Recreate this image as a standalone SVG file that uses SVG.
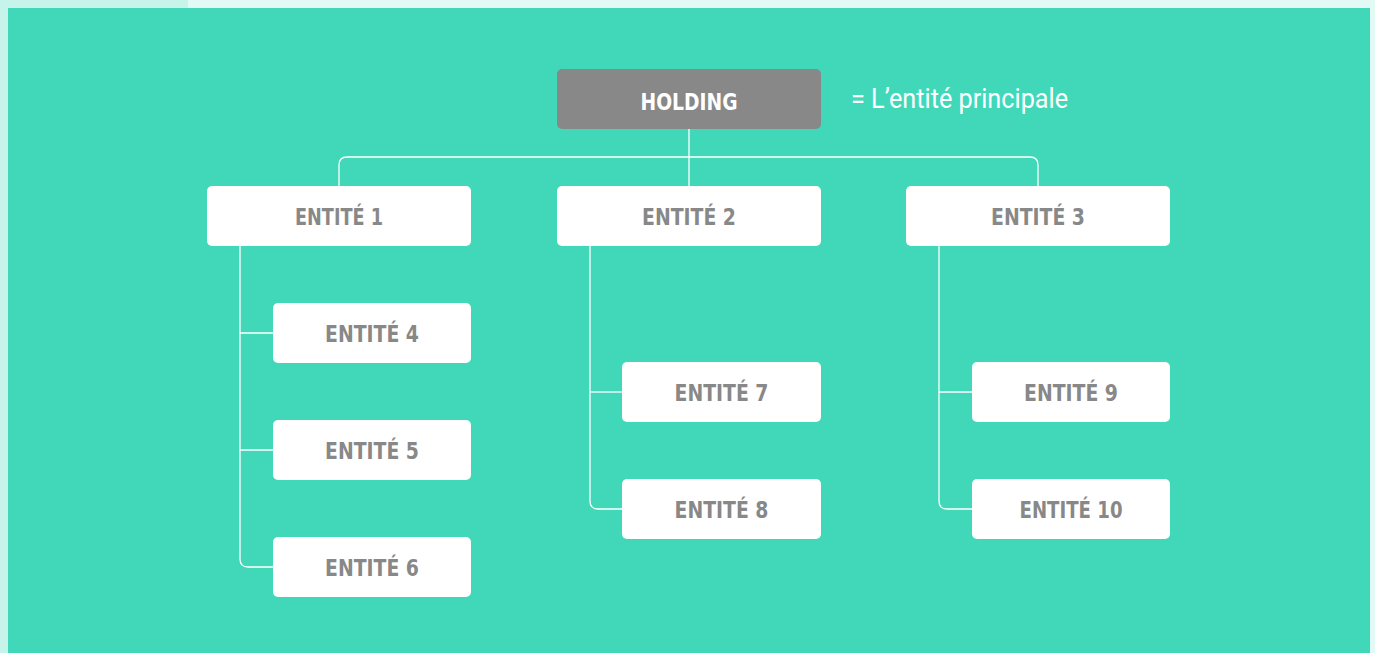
<svg xmlns="http://www.w3.org/2000/svg" width="1375" height="653" viewBox="0 0 1375 653">
<style>
.box{fill:#ffffff}
.hold{fill:#888888}
.lbl{font-family:"DejaVu Sans Condensed","DejaVu Sans",sans-serif;font-weight:bold;font-size:23.5px;fill:#888888;text-anchor:middle}
.note{font-family:"Roboto","Liberation Sans",sans-serif;font-size:27px;fill:#ffffff}
.ln{fill:none;stroke:#ffffff;stroke-width:1.3}
</style>
<rect x="0" y="0" width="1375" height="653" fill="#e3f9f4"/>
<rect x="0" y="0" width="188" height="8" fill="#c6f3ea"/>
<rect x="0" y="0" width="8" height="653" fill="#c6f3ea"/>
<rect x="8" y="8" width="1362" height="645" fill="#41d8b9"/>
<g id="connectors">
<path class="ln" d="M689 129 V157"/>
<path class="ln" d="M339 186 V165 Q339 157 347 157 H1030 Q1038 157 1038 165 V186"/>
<path class="ln" d="M689 157 V186"/>
<path class="ln" d="M240 246 V559 Q240 567 248 567 H273"/>
<path class="ln" d="M240 333 H273 M240 450 H273"/>
<path class="ln" d="M590 246 V501 Q590 509 598 509 H622"/>
<path class="ln" d="M590 392 H622"/>
<path class="ln" d="M939 246 V501 Q939 509 947 509 H972"/>
<path class="ln" d="M939 392 H972"/>
</g>
<g id="holding">
<rect class="hold" x="557" y="69" width="264" height="60" rx="5"/>
<text class="lbl" x="689" y="109.5" textLength="97" lengthAdjust="spacingAndGlyphs" style="fill:#ffffff">HOLDING</text>
</g>
<g id="note">
<text class="note" x="851" y="108" textLength="217" lengthAdjust="spacingAndGlyphs">= L’entité principale</text>
</g>
<g id="e1"><rect class="box" x="207" y="186" width="264" height="60" rx="5"/><text class="lbl" x="339" y="225" textLength="88" lengthAdjust="spacingAndGlyphs">ENTITÉ 1</text></g>
<g id="e2"><rect class="box" x="557" y="186" width="264" height="60" rx="5"/><text class="lbl" x="689" y="225" textLength="94" lengthAdjust="spacingAndGlyphs">ENTITÉ 2</text></g>
<g id="e3"><rect class="box" x="906" y="186" width="264" height="60" rx="5"/><text class="lbl" x="1038" y="225" textLength="94" lengthAdjust="spacingAndGlyphs">ENTITÉ 3</text></g>
<g id="e4"><rect class="box" x="273" y="303" width="198" height="60" rx="5"/><text class="lbl" x="372" y="342" textLength="94" lengthAdjust="spacingAndGlyphs">ENTITÉ 4</text></g>
<g id="e5"><rect class="box" x="273" y="420" width="198" height="60" rx="5"/><text class="lbl" x="372" y="459" textLength="94" lengthAdjust="spacingAndGlyphs">ENTITÉ 5</text></g>
<g id="e6"><rect class="box" x="273" y="537" width="198" height="60" rx="5"/><text class="lbl" x="372" y="576" textLength="94" lengthAdjust="spacingAndGlyphs">ENTITÉ 6</text></g>
<g id="e7"><rect class="box" x="622" y="362" width="199" height="60" rx="5"/><text class="lbl" x="721.5" y="401" textLength="94" lengthAdjust="spacingAndGlyphs">ENTITÉ 7</text></g>
<g id="e8"><rect class="box" x="622" y="479" width="199" height="60" rx="5"/><text class="lbl" x="721.5" y="518" textLength="94" lengthAdjust="spacingAndGlyphs">ENTITÉ 8</text></g>
<g id="e9"><rect class="box" x="972" y="362" width="198" height="60" rx="5"/><text class="lbl" x="1071" y="401" textLength="94" lengthAdjust="spacingAndGlyphs">ENTITÉ 9</text></g>
<g id="e10"><rect class="box" x="972" y="479" width="198" height="60" rx="5"/><text class="lbl" x="1071" y="518" textLength="103" lengthAdjust="spacingAndGlyphs">ENTITÉ 10</text></g>
</svg>
